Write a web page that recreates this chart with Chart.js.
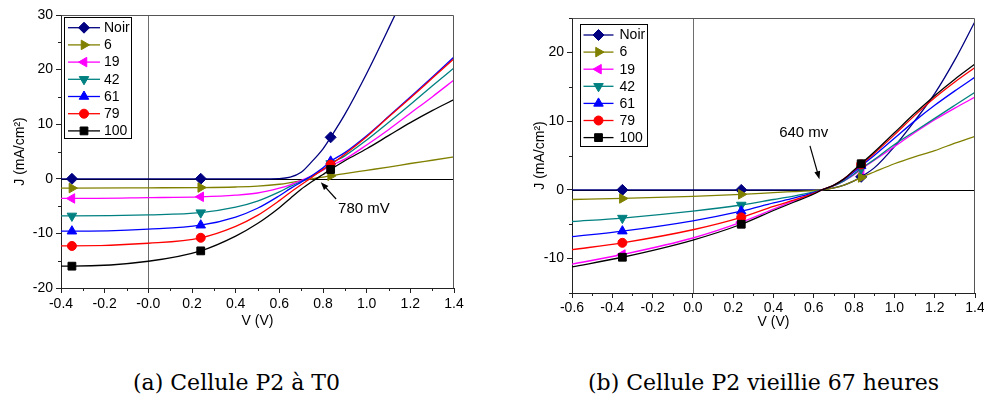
<!DOCTYPE html>
<html><head><meta charset="utf-8">
<script src="https://cdn.jsdelivr.net/npm/chart.js@4/dist/chart.umd.min.js"></script>
<style>
html,body{margin:0;padding:0;background:#fff;overflow:hidden;width:984px;height:399px;position:relative;}
canvas{position:absolute;top:0;}
#ca{left:0;}
#cb{left:490px;}
.cap{position:absolute;top:372px;font-family:"DejaVu Serif",serif;font-size:22px;line-height:1;color:#000;white-space:nowrap;}
</style></head><body>
<canvas id="ca" width="490" height="345"></canvas>
<canvas id="cb" width="500" height="345"></canvas>
<div class="cap" style="left:133px">(a) Cellule P2 à T0</div>
<div class="cap" style="left:588px">(b) Cellule P2 vieillie 67 heures</div>
<script>
// ---------- DATA ----------
const seriesNames = ["Noir", "6", "19", "42", "61", "79", "100"];
const seriesColors = ["#000080", "#808000", "#ff00ff", "#008080", "#0000ff", "#ff0000", "#000000"];
const seriesStyles = ["rectRot", "triangle", "triangle", "triangle", "triangle", "circle", "rect"];
const seriesRotations = [0, 90, -90, 180, 0, 0, 0];
const markerXsA = [-0.35, 0.24, 0.835];
const markerXsB = [-0.35, 0.24, 0.835];

// (a) Cellule P2 a T0
const vA = [-0.4, -0.35, 0, 0.24, 0.4, 0.5, 0.6, 0.65, 0.7, 0.75, 0.8, 0.835, 0.9, 1.0, 1.1, 1.2, 1.3, 1.4];
const jA_noir = [0, 0, 0, 0, 0, 0, 0.05, 0.3, 1.2, 3.2, 5.5, 7.6, 11.8, 19.3, 27.5, 36, 45, 54];
const jA_6    = [-1.7, -1.7, -1.65, -1.6, -1.5, -1.35, -1.0, -0.7, -0.35, 0.0, 0.3, 0.55, 0.95, 1.55, 2.15, 2.8, 3.4, 4.0];
const jA_19   = [-3.6, -3.6, -3.45, -3.3, -3.0, -2.6, -1.7, -1.1, -0.3, 0.6, 1.6, 2.4, 3.6, 6.2, 9.0, 12.0, 15.0, 18.1];
const jA_42   = [-6.8, -6.8, -6.6, -6.2, -5.2, -4.1, -2.4, -1.4, -0.5, 0.5, 1.7, 2.8, 4.2, 7.1, 10.3, 13.6, 17.0, 20.3];
const jA_61   = [-9.6, -9.6, -9.2, -8.5, -7.0, -5.4, -3.1, -1.8, -0.6, 0.6, 2.0, 3.2, 4.8, 7.9, 11.4, 15.0, 18.6, 22.3];
const jA_79   = [-12.3, -12.3, -11.8, -10.8, -8.7, -6.7, -4.0, -2.5, -1.1, 0.3, 1.7, 2.6, 4.5, 7.7, 11.3, 14.8, 18.4, 22.0];
const jA_100  = [-16.0, -16.0, -15.1, -13.2, -10.5, -8.2, -5.3, -3.6, -1.9, -0.5, 0.8, 1.7, 3.3, 5.5, 7.9, 10.3, 12.5, 14.5];

// (b) Cellule P2 vieillie 67 heures
const vB = [-0.6, -0.35, 0, 0.24, 0.4, 0.5, 0.6, 0.64, 0.7, 0.75, 0.8, 0.835, 0.9, 1.0, 1.1, 1.2, 1.3, 1.4];
const jB_noir = [0, 0, 0, 0, 0, 0, 0, 0.05, 0.3, 0.7, 1.3, 1.9, 3.2, 6.3, 10.0, 14.0, 18.9, 24.5];
const jB_6    = [-1.4, -1.25, -0.95, -0.65, -0.4, -0.25, -0.1, 0, 0.3, 0.7, 1.3, 1.8, 2.6, 3.8, 4.8, 5.7, 6.8, 7.8];
const jB_19   = [-10.8, -9.4, -7.0, -4.7, -2.8, -1.6, -0.5, 0, 0.6, 1.3, 2.2, 3.0, 4.3, 6.3, 8.3, 10.2, 11.9, 13.5];
const jB_42   = [-4.6, -4.1, -3.1, -2.2, -1.4, -0.9, -0.3, 0, 0.6, 1.3, 2.3, 3.1, 4.4, 6.6, 8.5, 10.4, 12.3, 14.2];
const jB_61   = [-6.8, -6.0, -4.5, -3.1, -1.9, -1.2, -0.4, 0, 0.7, 1.5, 2.6, 3.5, 5.0, 7.5, 10.0, 12.3, 14.4, 16.4];
const jB_79   = [-8.7, -7.7, -5.8, -4.0, -2.4, -1.5, -0.5, 0, 0.7, 1.6, 2.8, 3.7, 5.3, 8.0, 10.8, 13.4, 15.7, 17.8];
const jB_100  = [-11.2, -9.8, -7.3, -5.0, -3.0, -1.8, -0.6, 0, 0.7, 1.6, 2.9, 3.8, 5.5, 8.3, 11.1, 13.7, 16.1, 18.3];

// tick labels
const yTicksA = [-20, -10, 0, 10, 20, 30];
const yTicksB = [-10, 0, 10, 20];

const xTitle = "V (V)";
const yTitle = "J (mA/cm\u00B2)";
const annotA = { text: "780 mV", tx: 0.869, ty: -5.5, x0: 0.86, y0: -3.7, x1: 0.79, y1: -0.62 };
const annotB = { text: "640 mv", tx: 0.428, ty: 8.3, x0: 0.581, y0: 6.4, x1: 0.628, y1: 1.55 };

// ---------- BUILD ----------
const FONT = "'Liberation Sans', Arial, sans-serif";

function buildDatasets(xs, ys, markers) {
  return ys.map((arr, i) => ({
    label: seriesNames[i],
    data: arr.map((y, k) => ({ x: xs[k], y: y })),
    borderColor: seriesColors[i],
    backgroundColor: seriesColors[i],
    borderWidth: 1.3,
    pointStyle: seriesStyles[i],
    pointRotation: seriesRotations[i],
    pointRadius: ctx => (ctx.raw && markers.some(m => Math.abs(m - ctx.raw.x) < 1e-9)) ? (seriesStyles[i] === 'circle' ? 4.5 : 5.5) : 0,
    pointHoverRadius: 0,
    pointBorderWidth: 1,
    cubicInterpolationMode: 'monotone',
    fill: false,
    order: 6 - i
  }));
}

const decorPlugin = {
  id: 'decor',
  beforeDatasetsDraw(chart) {
    const { ctx, chartArea: a, scales: { x, y } } = chart;
    ctx.save();
    const x0 = Math.round(x.getPixelForValue(0)) + 0.5;
    ctx.strokeStyle = '#6e6e6e'; ctx.lineWidth = 1;
    ctx.beginPath(); ctx.moveTo(x0, a.top); ctx.lineTo(x0, a.bottom); ctx.stroke();
    const y0 = Math.round(y.getPixelForValue(0)) + 0.5;
    ctx.strokeStyle = '#000'; ctx.beginPath(); ctx.moveTo(a.left, y0); ctx.lineTo(a.right, y0); ctx.stroke();
    ctx.restore();
  },
  afterDatasetsDraw(chart) {
    const { ctx, chartArea: a, scales: { x, y } } = chart;
    const o = chart.options.plugins.decor;
    ctx.save();
    ctx.strokeStyle = '#555'; ctx.lineWidth = 1;
    ctx.beginPath();
    ctx.moveTo(Math.round(a.left) + 0.5, Math.round(a.top) + 0.5);
    ctx.lineTo(Math.round(a.right) - 0.5, Math.round(a.top) + 0.5);
    ctx.lineTo(Math.round(a.right) - 0.5, Math.round(a.bottom));
    ctx.stroke();
    ctx.strokeStyle = '#222';
    o.minorX.forEach(v => {
      const px = Math.round(x.getPixelForValue(v)) + 0.5;
      ctx.beginPath(); ctx.moveTo(px, a.bottom); ctx.lineTo(px, a.bottom + 3); ctx.stroke();
    });
    o.minorY.forEach(v => {
      const py = Math.round(y.getPixelForValue(v)) + 0.5;
      ctx.beginPath(); ctx.moveTo(a.left, py); ctx.lineTo(a.left - 3, py); ctx.stroke();
    });
    const L = o.legend;
    const bx = a.left + L.dx, by = a.top + L.dy;
    ctx.fillStyle = '#fff';
    ctx.fillRect(bx, by, L.w, L.h);
    ctx.strokeStyle = '#000'; ctx.lineWidth = 1;
    ctx.strokeRect(Math.round(bx) + 0.5, Math.round(by) + 0.5, L.w, L.h);
    ctx.font = '14px ' + FONT;
    ctx.textBaseline = 'middle'; ctx.textAlign = 'left';
    chart.data.datasets.forEach((ds, i) => {
      const ry = by + L.first + i * L.step;
      ctx.strokeStyle = ds.borderColor; ctx.lineWidth = 1.3;
      ctx.beginPath(); ctx.moveTo(bx + L.l0, ry); ctx.lineTo(bx + L.l1, ry); ctx.stroke();
      ctx.fillStyle = ds.backgroundColor; ctx.strokeStyle = ds.borderColor; ctx.lineWidth = 1;
      if (Chart.helpers && Chart.helpers.drawPoint) {
        Chart.helpers.drawPoint(ctx, { pointStyle: ds.pointStyle, rotation: ds.pointRotation, radius: ds.pointStyle === 'circle' ? 4.5 : 5.5, borderWidth: 1 }, bx + (L.l0 + L.l1) / 2, ry);
      }
      ctx.fillStyle = '#000';
      ctx.fillText(ds.label, bx + L.tx, ry + 0.5);
    });
    const an = o.annot;
    ctx.font = '15px ' + FONT; ctx.fillStyle = '#000';
    ctx.textBaseline = 'middle';
    ctx.fillText(an.text, x.getPixelForValue(an.tx), y.getPixelForValue(an.ty));
    const sx = x.getPixelForValue(an.x0), sy = y.getPixelForValue(an.y0);
    const ex = x.getPixelForValue(an.x1), ey = y.getPixelForValue(an.y1);
    const ang = Math.atan2(ey - sy, ex - sx);
    const hl = 8, hw = 3;
    ctx.strokeStyle = '#000'; ctx.lineWidth = 1.2;
    ctx.beginPath(); ctx.moveTo(sx, sy);
    ctx.lineTo(ex - Math.cos(ang) * hl * 0.8, ey - Math.sin(ang) * hl * 0.8); ctx.stroke();
    ctx.beginPath();
    ctx.moveTo(ex, ey);
    ctx.lineTo(ex - Math.cos(ang) * hl + Math.sin(ang) * hw, ey - Math.sin(ang) * hl - Math.cos(ang) * hw);
    ctx.lineTo(ex - Math.cos(ang) * hl - Math.sin(ang) * hw, ey - Math.sin(ang) * hl + Math.cos(ang) * hw);
    ctx.closePath(); ctx.fill();
    ctx.restore();
  }
};

function makeChart(id, xs, ys, markers, cfg) {
  return new Chart(document.getElementById(id), {
    type: 'line',
    data: { datasets: buildDatasets(xs, ys, markers) },
    plugins: [decorPlugin],
    options: {
      responsive: false,
      animation: false,
      events: [],
      layout: { padding: { left: 0, right: cfg.padRight, top: cfg.padTop, bottom: 0 } },
      plugins: {
        legend: { display: false },
        tooltip: { enabled: false },
        decor: { minorX: cfg.minorX, minorY: cfg.minorY, legend: cfg.legend, annot: cfg.annot }
      },
      scales: {
        x: {
          type: 'linear', min: cfg.xmin, max: cfg.xmax,
          afterFit: s => { s.height = cfg.xAxisH; },
          ticks: { stepSize: 0.2, autoSkip: false, maxRotation: 0, padding: cfg.xTickPad, color: '#000',
                   font: { family: FONT, size: 14 }, callback: v => Number(v).toFixed(1) },
          grid: { drawOnChartArea: false, drawTicks: true, tickLength: 5, tickColor: '#222' },
          border: { display: true, color: '#222', width: 1 },
          title: { display: true, text: xTitle, color: '#000', font: { family: FONT, size: 14 }, padding: { top: 0, bottom: cfg.xTitlePad } }
        },
        y: {
          type: 'linear', min: cfg.ymin, max: cfg.ymax,
          afterBuildTicks: s => { s.ticks = cfg.yTicks.map(v => ({ value: v })); },
          afterFit: s => { s.width = cfg.yAxisW; },
          ticks: { autoSkip: false, padding: 3, color: '#000',
                   font: { family: FONT, size: 14 }, callback: v => String(v) },
          grid: { drawOnChartArea: false, drawTicks: true, tickLength: 5, tickColor: '#222' },
          border: { display: true, color: '#222', width: 1 },
          title: { display: true, text: yTitle, color: '#000', font: { family: FONT, size: 14 }, padding: { top: cfg.yTitlePad, bottom: 0 } }
        }
      }
    }
  });
}

makeChart('ca', vA, [jA_noir, jA_6, jA_19, jA_42, jA_61, jA_79, jA_100], markerXsA, {
  xmin: -0.4, xmax: 1.4, ymin: -20, ymax: 30, yTicks: yTicksA,
  padRight: 36, padTop: 15, xAxisH: 57, yAxisW: 61, xTickPad: 3, xTitlePad: 15, yTitlePad: 12,
  minorX: [-0.3, -0.1, 0.1, 0.3, 0.5, 0.7, 0.9, 1.1, 1.3],
  minorY: [-15, -5, 5, 15, 25],
  legend: { dx: 3, dy: 2, w: 67, h: 121, first: 10.7, step: 17.2, l0: 4, l1: 36, tx: 40 },
  annot: annotA
});

makeChart('cb', vB, [jB_noir, jB_6, jB_19, jB_42, jB_61, jB_79, jB_100], markerXsB, {
  xmin: -0.6, xmax: 1.4, ymin: -15, ymax: 25, yTicks: yTicksB,
  padRight: 15, padTop: 18, xAxisH: 52, yAxisW: 82, xTickPad: 2, xTitlePad: 14, yTitlePad: 42,
  minorX: [-0.5, -0.3, -0.1, 0.1, 0.3, 0.5, 0.7, 0.9, 1.1, 1.3],
  minorY: [-15, -5, 5, 15, 25],
  legend: { dx: 7.5, dy: 6, w: 67, h: 122, first: 11, step: 17.1, l0: 4, l1: 34, tx: 40 },
  annot: annotB
});
</script>
</body></html>
